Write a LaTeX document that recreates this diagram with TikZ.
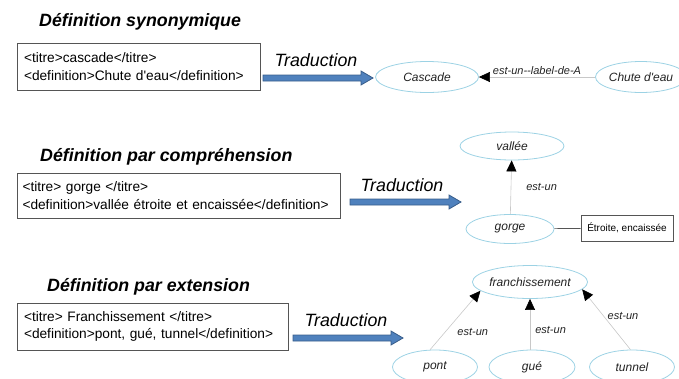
\documentclass[tikz,border=0pt]{standalone}
\usepackage{fontspec}
\setmainfont{Liberation Sans}
\usetikzlibrary{shapes.geometric,arrows.meta,calc}
\definecolor{ellblue}{HTML}{9CD2E4}
\definecolor{edgegray}{HTML}{C8C8C8}
\definecolor{arrfill}{HTML}{4F81BD}
\definecolor{arrdraw}{HTML}{385D8A}
\definecolor{boxgray}{HTML}{555555}
\definecolor{txt}{HTML}{222222}
\tikzset{
  titlelbl/.style={anchor=west, inner sep=0pt, font=\fontsize{17.8}{20}\selectfont\bfseries\itshape, text=black},
  xmlbox/.style={draw=boxgray, line width=0.8pt, align=left, inner xsep=7pt, inner ysep=0pt,
    font=\fontsize{13.7}{17.5}\selectfont, text=black},
  tradlbl/.style={inner sep=0pt, font=\fontsize{17.8}{20}\selectfont\itshape, text=black},
  transarrow/.style={draw=arrdraw, fill=arrfill, line width=0.8pt, line join=miter},
  concept/.style={ellipse, draw=ellblue, line width=0.8pt, inner sep=0pt,
    font=\fontsize{12}{14}\selectfont\itshape, text=txt},
  isa/.style={draw=edgegray, line width=0.6pt, -{Triangle[color=black, length=11pt, width=10pt]}},
  plain/.style={draw=boxgray, line width=0.7pt},
  lbl/.style={inner sep=1pt, font=\fontsize{11}{13}\selectfont\itshape, text=txt},
  attrbox/.style={draw=boxgray, line width=0.7pt, inner sep=0pt, font=\fontsize{10}{12}\selectfont, text=black}
}
\newcommand\blockarrow[2]{%
  \filldraw[transarrow] ($(#1)+(0,-3)$) -- ($(#2)+(-12,-3)$) -- ($(#2)+(-12,-7)$) -- (#2)
    -- ($(#2)+(-12,7)$) -- ($(#2)+(-12,3)$) -- ($(#1)+(0,3)$) -- cycle;}
\begin{document}
\begin{tikzpicture}[x=1pt, y=-1pt]
\useasboundingbox (0,0) rectangle (679,378);
% ---------- Section 1 ----------
\node[titlelbl] (t1) at (39,22) {Définition synonymique};
\node[xmlbox, minimum width=243pt, minimum height=47pt, text width=229pt] (box1) at (138.5,66.5)
  {<titre>cascade</titre>\\<definition>Chute d\textquotesingle eau</definition>};
\node[tradlbl] (tr1) at (316,60) {Traduction};
\coordinate (a1s) at (263,78);
\coordinate (a1e) at (373,78);
\blockarrow{a1s}{a1e}
\node[concept, minimum width=103pt, minimum height=31pt] (cascade) at (427,77) {Cascade};
\node[concept, minimum width=88pt, minimum height=31pt] (chute) at (641,77) {Chute d\textquotesingle eau};
\draw[isa] (chute) -- node[lbl, above=1pt] {est-un-{}-label-de-A} (cascade);
% ---------- Section 2 ----------
\node[titlelbl] (t2) at (40,157) {Définition par compréhension};
\node[xmlbox, minimum width=323pt, minimum height=45pt, text width=312pt, inner xsep=5.5pt] (box2) at (178.5,195.5)
  {<titre> gorge </titre>\\<definition>vallée étroite et encaissée</definition>};
\node[tradlbl] (tr2) at (402,185) {Traduction};
\coordinate (a2s) at (350,202);
\coordinate (a2e) at (461,202);
\blockarrow{a2s}{a2e}
\node[concept, minimum width=104pt, minimum height=28pt] (vallee) at (512,146) {vallée};
\node[concept, minimum width=88pt, minimum height=29pt] (gorge) at (510,229) {gorge};
\node[attrbox, minimum width=92pt, minimum height=26pt] (attr) at (627,228) {Étroite, encaissée};
\draw[isa] (gorge) -- node[lbl, right=14pt] {est-un} (vallee);
\draw[plain] (gorge) -- (attr);
% ---------- Section 3 ----------
\node[titlelbl] (t3) at (47,287) {Définition par extension};
\node[xmlbox, minimum width=271pt, minimum height=47pt, text width=257pt] (box3) at (152.5,326.5)
  {<titre> Franchissement </titre>\\<definition>pont, gué, tunnel</definition>};
\node[tradlbl] (tr3) at (346,320) {Traduction};
\coordinate (a3s) at (293,338);
\coordinate (a3e) at (403,338);
\blockarrow{a3s}{a3e}
\node[concept, minimum width=103pt, minimum height=33pt] (franch) at (530,282) {franchissement};
\node[concept, minimum width=85pt, minimum height=34pt] (pont) at (435,367) {pont};
\node[concept, minimum width=86pt, minimum height=34pt] (gue) at (532,367) {gué};
\node[concept, minimum width=85pt, minimum height=34pt] (tunnel) at (632,367) {tunnel};
\draw[isa] (pont.106) -- node[lbl, pos=0.3, right=11pt] {est-un} (franch.190);
\draw[isa] (gue.north -| franch.south) -- node[lbl, pos=0.38, right=4pt] {est-un} (franch.south);
\draw[isa] (tunnel.95) -- node[lbl, pos=0.56, right=3pt] {est-un} (franch.352);
\end{tikzpicture}
\end{document}
